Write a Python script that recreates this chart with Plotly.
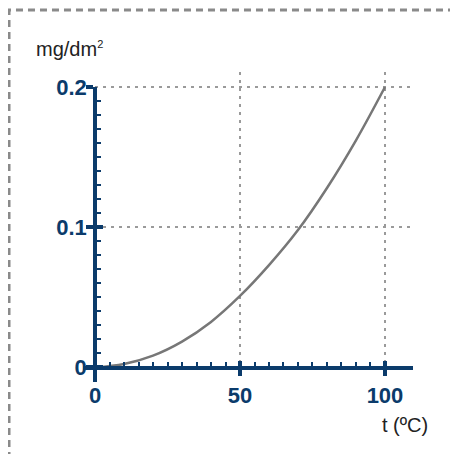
import plotly.graph_objects as go

# ---- data ----
temp_c = [0, 10, 20, 30, 40, 50, 60, 70, 80, 90, 100]
mass_mg_dm2 = [0.0, 0.0025, 0.0085, 0.0185, 0.0325, 0.051, 0.073, 0.098, 0.128, 0.162, 0.2]

x_tick_vals = [0, 50, 100]
x_tick_text = ["0", "50", "100"]
y_tick_vals = [0, 0.1, 0.2]
y_tick_text = ["0", "0.1", "0.2"]
x_minor_vals = [5, 10, 15, 20, 25, 30, 35, 40, 45, 55, 60, 65, 70, 75, 80, 85, 90, 95]
y_minor_vals = [0.01, 0.02, 0.03, 0.04, 0.05, 0.06, 0.07, 0.08, 0.09,
                0.11, 0.12, 0.13, 0.14, 0.15, 0.16, 0.17, 0.18, 0.19]
x_grid_vals = [50, 100]
y_grid_vals = [0.1, 0.2]

y_unit = "mg/dm<sup><span style='font-size:11px'>2</span></sup>"
x_unit = "t (ºC)"

# ---- style ----
NAVY = "#0b3b6b"
CURVE = "#777777"
GRID = "#9a9a9a"
FONT = "Liberation Sans, Arial, sans-serif"
X_MIN, X_MAX = -4.14, 109.66
Y_MIN, Y_MAX, Y_AXIS_TOP = -0.01034, 0.2107, 0.2
X0_FRAC = 0.03636
Y0_FRAC = 0.04677
Y2_TOP = 0.9516

fig = go.Figure()
fig.add_trace(go.Scatter(x=temp_c, y=mass_mg_dm2, mode="lines",
                         line=dict(color=CURVE, width=2.5, shape="spline"),
                         hoverinfo="skip", showlegend=False))
# helper empty traces so the extra axes are registered
fig.add_trace(go.Scatter(x=[], y=[], xaxis="x2", yaxis="y2", showlegend=False))
fig.add_trace(go.Scatter(x=[], y=[], xaxis="x3", yaxis="y3", showlegend=False))

tickfont = dict(family=FONT, size=22, color=NAVY, weight="bold")

fig.update_layout(
    width=458, height=454,
    margin=dict(l=75, r=53, t=64, b=80),
    paper_bgcolor="white", plot_bgcolor="rgba(0,0,0,0)",
    showlegend=False, hovermode=False,
    # grid axes (data)
    xaxis=dict(domain=[X0_FRAC, 1], range=[0, X_MAX], anchor="y",
               tickmode="array", tickvals=x_grid_vals, showticklabels=False,
               ticks="", showline=False, zeroline=False,
               showgrid=True, gridcolor=GRID, gridwidth=1.5, griddash="3px,5px"),
    yaxis=dict(domain=[Y0_FRAC, 1], range=[0, Y_MAX], anchor="x",
               tickmode="array", tickvals=y_grid_vals, showticklabels=False,
               ticks="", showline=False, zeroline=False,
               showgrid=True, gridcolor=GRID, gridwidth=1.5, griddash="3px,5px"),
    # visible axes with outside ticks and labels
    xaxis2=dict(domain=[0, 1], range=[X_MIN, X_MAX], anchor="free", position=Y0_FRAC,
                showline=True, linecolor=NAVY, linewidth=3.5, showgrid=False, zeroline=False,
                tickmode="array", tickvals=x_tick_vals, ticktext=x_tick_text,
                ticks="outside", ticklen=7, tickwidth=3.5, tickcolor=NAVY,
                tickfont=tickfont,
                minor=dict(tickmode="array", tickvals=x_minor_vals, ticks="inside",
                           ticklen=4, tickwidth=2, tickcolor=NAVY, showgrid=False)),
    yaxis2=dict(domain=[0, Y2_TOP], range=[Y_MIN, Y_AXIS_TOP], anchor="free", position=X0_FRAC,
                showline=True, linecolor=NAVY, linewidth=3.5, showgrid=False, zeroline=False,
                tickmode="array", tickvals=y_tick_vals, ticktext=y_tick_text,
                ticks="outside", ticklen=7, tickwidth=3.5, tickcolor=NAVY,
                tickfont=tickfont, ticklabelstandoff=-5,
                minor=dict(tickmode="array", tickvals=y_minor_vals, ticks="inside",
                           ticklen=4, tickwidth=2, tickcolor=NAVY, showgrid=False)),
    # overlay axes giving the inner half of the major ticks
    xaxis3=dict(overlaying="x2", range=[X_MIN, X_MAX], anchor="free", position=Y0_FRAC,
                showline=False, showgrid=False, zeroline=False,
                tickmode="array", tickvals=x_tick_vals, showticklabels=False,
                ticks="inside", ticklen=7, tickwidth=3.5, tickcolor=NAVY),
    yaxis3=dict(overlaying="y2", range=[Y_MIN, Y_AXIS_TOP], anchor="free", position=X0_FRAC,
                showline=False, showgrid=False, zeroline=False,
                tickmode="array", tickvals=y_tick_vals, showticklabels=False,
                ticks="inside", ticklen=7, tickwidth=3.5, tickcolor=NAVY),
)

fig.add_annotation(text=y_unit, xref="paper", yref="paper", x=-0.0394, y=1.074,
                   xanchor="center", yanchor="middle", showarrow=False,
                   font=dict(family=FONT, size=20, color="#222222"))
fig.add_annotation(text=x_unit, xref="paper", yref="paper", x=0.9758, y=-0.1387,
                   xanchor="center", yanchor="middle", showarrow=False,
                   font=dict(family=FONT, size=20, color="#222222"))

# dashed frame (top and left edges visible)
fig.add_shape(type="rect", xref="paper", yref="paper",
              x0=-0.2242, x1=2, y0=-1, y1=1.2,
              line=dict(color="#8a8a8a", width=3, dash="7px,5px"), layer="below")

fig.write_html("out.html")
